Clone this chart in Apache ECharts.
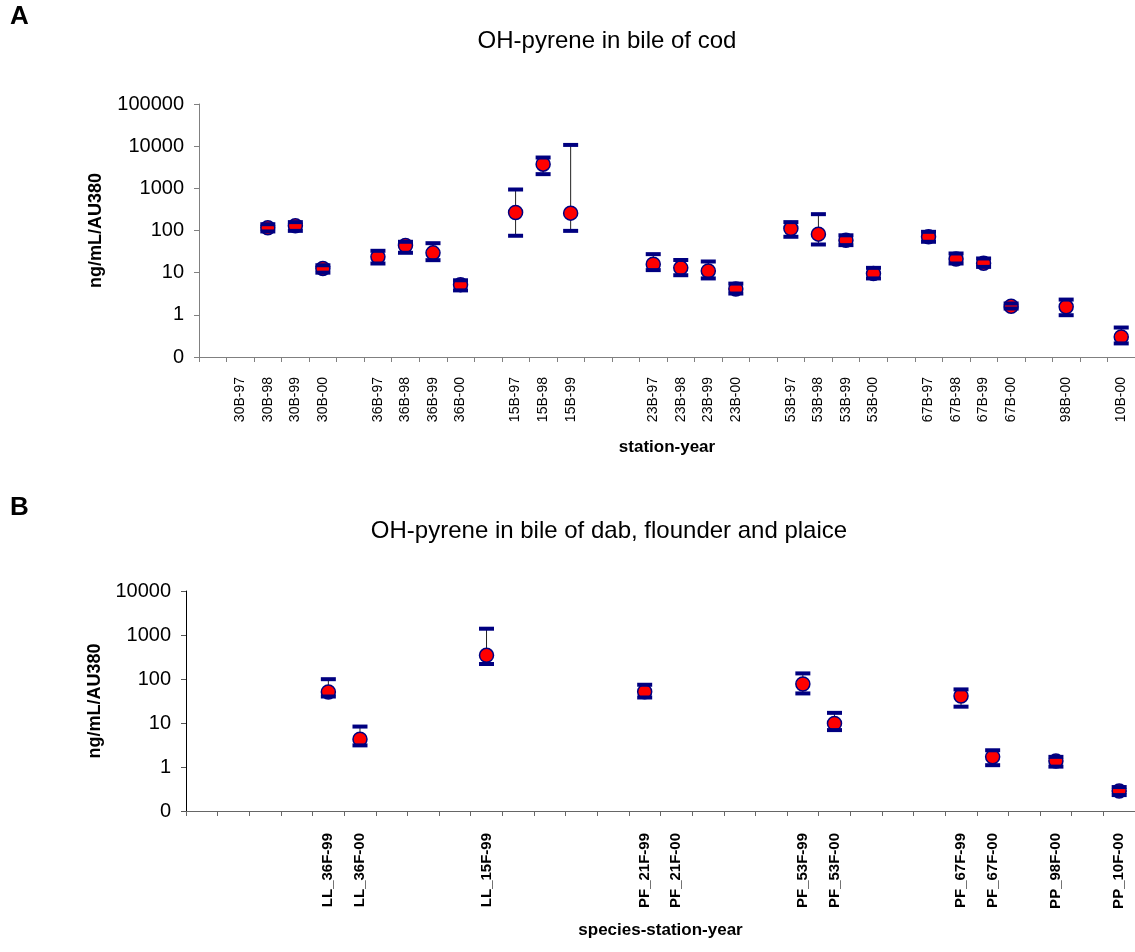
<!DOCTYPE html>
<html><head><meta charset="utf-8">
<script src="https://cdn.jsdelivr.net/npm/echarts@6/dist/echarts.min.js"></script>
<style>html,body{margin:0;padding:0;background:#fff}#c{width:1135px;height:952px}</style>
</head><body><div id="c"></div>
<script>
// ---- Panel A: cod ----
const catsA = ['', '30B-97','30B-98','30B-99','30B-00','', '36B-97','36B-98','36B-99','36B-00','', '15B-97','15B-98','15B-99','','', '23B-97','23B-98','23B-99','23B-00','', '53B-97','53B-98','53B-99','53B-00','', '67B-97','67B-98','67B-99','67B-00','', '98B-00','', '10B-00'];
const meanA = [null,null,116,129,12.6,null,23.7,44,29.5,5.2,null,267,3740,258,null,null,15.9,13,11,4.1,null,111,82,59,9.5,null,71,21,16.8,1.6,null,1.55,null,0.30];
const lowA  = [null,null,95,98,10,null,16.5,29.6,19.8,3.8,null,75,2170,98,null,null,11.5,8.7,7.3,3.2,null,71,46.6,45,7.3,null,54,16.5,13.7,1.41,null,0.98,null,0.21];
const highA = [null,null,141,158,15,null,33,54,50,6.6,null,938,5380,10700,null,null,27.5,20,18.4,5.5,null,158,244,77,13,null,93,28.5,21.7,1.86,null,2.3,null,0.5];

// ---- Panel B: dab, flounder, plaice ----
const catsB = ['','','','','LL_36F-99','LL_36F-00','','','','LL_15F-99','','','','','PF_21F-99','PF_21F-00','','','','PF_53F-99','PF_53F-00','','','','PF_67F-99','PF_67F-00','','PP_98F-00','','PP_10F-00'];
const meanB = [null,null,null,null,50.7,4.3,null,null,null,345,null,null,null,null,51.5,null,null,null,null,77,9.8,null,null,null,41,1.7,null,1.37,null,0.285];
const lowB  = [null,null,null,null,40,3.1,null,null,null,219,null,null,null,null,38,null,null,null,null,47,6.9,null,null,null,23.5,1.1,null,1.02,null,0.23];
const highB = [null,null,null,null,99,8.3,null,null,null,1390,null,null,null,null,74,null,null,null,null,134,17,null,null,null,58,2.4,null,1.7,null,0.35];

const FONT = 'Liberation Sans, Arial, sans-serif';
const NAVY = '#000080';

function pts(mean){ const r=[]; mean.forEach((v,i)=>{ if(v!=null) r.push([i,v]); }); return r; }
function errs(low,high){ const r=[]; low.forEach((v,i)=>{ if(v!=null && high[i]!=null) r.push([i,v,high[i]]); }); return r; }

function stemSeries(g, low, high){
  return {type:'custom', xAxisIndex:g, yAxisIndex:g, z:1, data:errs(low,high), encode:{x:0,y:[1,2]},
    renderItem:(p,api)=>{
      const a=api.coord([api.value(0),api.value(1)]), b=api.coord([api.value(0),api.value(2)]);
      return {type:'line', shape:{x1:a[0],y1:a[1],x2:b[0],y2:b[1]}, style:{stroke:'#222',lineWidth:1}};
    }};
}
function capSeries(g, low, high){
  return {type:'custom', xAxisIndex:g, yAxisIndex:g, z:3, data:errs(low,high), encode:{x:0,y:[1,2]},
    renderItem:(p,api)=>{
      const a=api.coord([api.value(0),api.value(1)]), b=api.coord([api.value(0),api.value(2)]);
      const w=15,h=4;
      return {type:'group', children:[
        {type:'rect', shape:{x:a[0]-w/2,y:a[1]-h/2,width:w,height:h}, style:{fill:NAVY}},
        {type:'rect', shape:{x:b[0]-w/2,y:b[1]-h/2,width:w,height:h}, style:{fill:NAVY}}
      ]};
    }};
}
function dotSeries(g, mean){
  return {type:'scatter', xAxisIndex:g, yAxisIndex:g, z:2, data:pts(mean), symbol:'circle', symbolSize:14,
    itemStyle:{color:'#ff0000', borderColor:NAVY, borderWidth:1.5, opacity:1}};
}
const logFmt = v => v < 1 ? '0' : String(Math.round(v));

const chart = echarts.init(document.getElementById('c'), null, {renderer:'canvas'});
chart.setOption({
  animation:false,
  backgroundColor:'#fff',
  textStyle:{fontFamily:FONT},
  graphic:[
    {type:'text', x:10, y:17, style:{text:'A', font:'bold 26px '+FONT, fill:'#000', textVerticalAlign:'middle'}},
    {type:'text', x:607, y:41, style:{text:'OH-pyrene in bile of cod', font:'24px '+FONT, fill:'#000', textAlign:'center', textVerticalAlign:'middle'}},
    {type:'text', x:10, y:508, style:{text:'B', font:'bold 26px '+FONT, fill:'#000', textVerticalAlign:'middle'}},
    {type:'text', x:609, y:531, style:{text:'OH-pyrene in bile of dab, flounder and plaice', font:'24px '+FONT, fill:'#000', textAlign:'center', textVerticalAlign:'middle'}}
  ],
  grid:[
    {left:199, right:0, top:104, height:253},
    {left:186, right:0, top:591, height:220}
  ],
  xAxis:[
    {type:'category', gridIndex:0, data:catsA,
     axisLine:{lineStyle:{color:'#808080',width:1}}, axisTick:{show:true,length:5,lineStyle:{color:'#808080'}},
     axisLabel:{interval:0, rotate:90, fontSize:14, color:'#000', margin:20, fontFamily:FONT},
     name:'station-year', nameLocation:'middle', nameGap:82,
     nameTextStyle:{fontSize:17, fontWeight:'bold', color:'#000', fontFamily:FONT}},
    {type:'category', gridIndex:1, data:catsB,
     axisLine:{lineStyle:{color:'#666',width:1}}, axisTick:{show:true,length:5,lineStyle:{color:'#666'}},
     axisLabel:{interval:0, rotate:90, fontSize:15, fontWeight:'bold', color:'#000', margin:22, fontFamily:FONT},
     name:'species-station-year', nameLocation:'middle', nameGap:111,
     nameTextStyle:{fontSize:17, fontWeight:'bold', color:'#000', fontFamily:FONT}}
  ],
  yAxis:[
    {type:'log', logBase:10, gridIndex:0, min:0.1, max:100000,
     axisLine:{show:true, lineStyle:{color:'#808080'}}, axisTick:{show:true,length:5,lineStyle:{color:'#808080'}},
     splitLine:{show:false},
     axisLabel:{fontSize:20, color:'#000', margin:15, formatter:logFmt, fontFamily:FONT},
     name:'ng/mL/AU380', nameLocation:'middle', nameRotate:90, nameGap:94,
     nameTextStyle:{fontSize:18, fontWeight:'bold', color:'#000', fontFamily:FONT}},
    {type:'log', logBase:10, gridIndex:1, min:0.1, max:10000,
     axisLine:{show:true, lineStyle:{color:'#000'}}, axisTick:{show:true,length:5,lineStyle:{color:'#555'}},
     splitLine:{show:false},
     axisLabel:{fontSize:20, color:'#000', margin:15, formatter:logFmt, fontFamily:FONT},
     name:'ng/mL/AU380', nameLocation:'middle', nameRotate:90, nameGap:82,
     nameTextStyle:{fontSize:18, fontWeight:'bold', color:'#000', fontFamily:FONT}}
  ],
  series:[
    stemSeries(0,lowA,highA), dotSeries(0,meanA), capSeries(0,lowA,highA),
    stemSeries(1,lowB,highB), dotSeries(1,meanB), capSeries(1,lowB,highB)
  ]
});
</script></body></html>
